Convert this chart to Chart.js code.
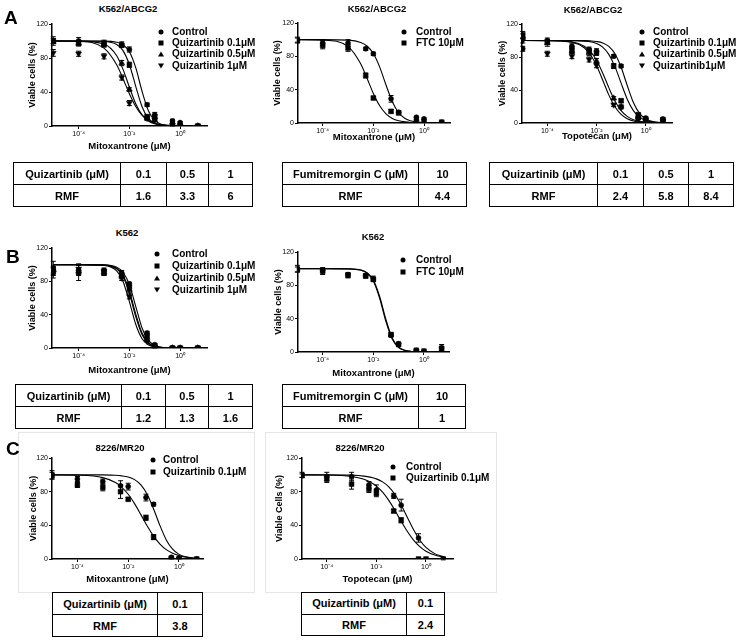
<!DOCTYPE html>
<html><head><meta charset="utf-8">
<script src="https://cdn.jsdelivr.net/npm/chart.js@4.4.1/dist/chart.umd.min.js"></script>
<style>
body{margin:0;background:#fff;width:739px;height:643px;position:relative;overflow:hidden;font-family:"Liberation Sans",Arial,sans-serif;color:#000;}
canvas{position:absolute;}
.ptitle{position:absolute;font-weight:bold;font-size:9.5px;transform:translate(-50%,-50%);white-space:nowrap;line-height:1;}
.letter{position:absolute;font-weight:bold;font-size:19px;line-height:1;transform:translateY(-50%);}
.legtxt{position:absolute;font-weight:bold;font-size:10px;white-space:nowrap;line-height:1;transform:translateY(-50%);}
.mk{position:absolute;transform:translate(-50%,-50%);}
.box{position:absolute;border:1px solid #e6e6e6;}
table{position:absolute;border-collapse:collapse;font-weight:bold;font-size:11px;table-layout:fixed;}
td{border:1.5px solid #000;text-align:center;padding:0;white-space:nowrap;overflow:hidden;}
</style></head><body>
<script>
// ---------------- DATA ----------------
const conc = [0.00001, 0.0001, 0.001, 0.005, 0.01, 0.05, 0.1, 0.5, 1, 5];
const curveConc = [0.00001, 0.0001, 0.001, 0.00316, 0.00562, 0.01, 0.0178, 0.0316, 0.0562, 0.1, 0.178, 0.316, 0.562, 1, 2.24, 5];
const xTickValues = [0.0001, 0.01, 1];
const xTickLabels = ['10⁻⁴', '10⁻²', '10⁰'];
const yTickValues = [0, 40, 80, 120];

// A1  K562/ABCG2  mitoxantrone
const a1Control    = [100, 100, 97, 96, 90, 25, 13, 6, 4, 0];
const a1ControlErr = [5, 4, 4, 3, 3, 2, 3, 2, 1, 0];
const a1ControlFit = [100, 100, 99.9, 98.6, 95.6, 87.3, 68.6, 40.9, 18.0, 6.5, 2.1, 0.7, 0.2, 0.1, 0, 0];
const a1Q01    = [100, 98, 97, 95, 72, 11, 11, 1, 0, 0];
const a1Q01Err = [3, 3, 3, 2, 3, 2, 2, 1, 0, 0];
const a1Q01Fit = [100, 100, 99.5, 95.9, 88.7, 72.4, 46.7, 22.7, 8.9, 3.2, 1.1, 0.4, 0.1, 0, 0, 0];
const a1Q05    = [99, 97, 96, 74, 43, 9, 7, 2, 1, 0];
const a1Q05Err = [2, 3, 3, 3, 2, 2, 1, 1, 0, 0];
const a1Q05Fit = [100, 99.9, 96.4, 82.6, 66.6, 45.7, 26.2, 13.0, 5.9, 2.6, 1.1, 0.5, 0.2, 0.1, 0, 0];
const a1Q1    = [86, 85, 82, 57, 27, 9, 7, 1, 0, 0];
const a1Q1Err = [4, 3, 3, 3, 3, 2, 1, 0, 0, 0];
const a1Q1Fit = [100, 99.5, 91.6, 72.0, 55.7, 38.0, 23.0, 12.7, 6.6, 3.3, 1.6, 0.8, 0.4, 0.2, 0.1, 0];

// A2  K562/ABCG2  mitoxantrone + FTC
const a2Control    = [100, 96, 96, 89, 83, 29, 13, 7, 5, 1];
const a2ControlErr = [3, 3, 4, 2, 2, 4, 2, 1, 1, 0];
const a2ControlFit = [100, 100, 99.4, 96.7, 92.4, 83.3, 67.1, 45.6, 25.5, 12.3, 5.4, 2.3, 1.0, 0.4, 0.1, 0];
const a2Ftc    = [99, 93, 90, 57, 30, 14, 12, 2, 1, 1];
const a2FtcErr = [3, 4, 4, 3, 2, 2, 1, 1, 0, 0];
const a2FtcFit = [100, 99.5, 91.7, 71.1, 53.7, 35.5, 20.6, 11.0, 5.5, 2.7, 1.3, 0.6, 0.3, 0.1, 0.1, 0];

// A3  K562/ABCG2  topotecan
const a3Control    = [90, 100, 93, 89, 87, 81, 69, 6, 6, 5];
const a3ControlErr = [3, 3, 3, 3, 3, 2, 2, 2, 1, 1];
const a3ControlFit = [100, 100, 100, 99.8, 99.5, 98.8, 97.1, 92.9, 84.0, 67.6, 45.4, 24.9, 11.6, 5.0, 1.4, 0.4];
const a3Q01    = [107, 98, 89, 87, 85, 69, 27, 10, 5, 4];
const a3Q01Err = [4, 3, 4, 3, 3, 3, 2, 2, 1, 1];
const a3Q01Fit = [100, 100, 99.9, 99.3, 98.4, 96.3, 92.0, 83.2, 68.3, 48.3, 28.9, 15.0, 7.1, 3.2, 1.0, 0.3];
const a3Q05    = [105, 97, 87, 85, 75, 30, 20, 7, 4, 3];
const a3Q05Err = [3, 4, 3, 3, 3, 2, 2, 1, 1, 1];
const a3Q05Fit = [100, 99.9, 98.3, 93.0, 86.7, 76.0, 60.6, 42.9, 26.7, 15.1, 8.0, 4.0, 2.0, 1.0, 0.4, 0.1];
const a3Q1    = [100, 84, 81, 77, 70, 22, 19, 5, 3, 2];
const a3Q1Err = [3, 3, 3, 3, 3, 2, 2, 1, 1, 1];
const a3Q1Fit = [100, 99.9, 97.9, 91.2, 83.0, 69.8, 52.2, 34.1, 19.7, 10.4, 5.2, 2.5, 1.2, 0.6, 0.2, 0.1];

// B1  K562  mitoxantrone
const b1Control    = [96, 93, 93, 90, 77, 18, 4, 0, 0, 0];
const b1ControlErr = [8, 6, 3, 3, 2, 2, 1, 0, 0, 0];
const b1ControlFit = [100, 100, 99.7, 96.9, 90.9, 76.0, 50.0, 24.0, 9.1, 3.1, 1.0, 0.3, 0.1, 0, 0, 0];
const b1Q01    = [92, 91, 90, 87, 73, 14, 3, 0, 0, 0];
const b1Q01Err = [5, 10, 3, 3, 3, 2, 1, 0, 0, 0];
const b1Q01Fit = [100, 100, 99.5, 95.6, 87.4, 68.6, 40.9, 18.0, 6.5, 2.1, 0.7, 0.2, 0.1, 0, 0, 0];
const b1Q05    = [94, 92, 91, 86, 70, 10, 2, 0, 0, 0];
const b1Q05Err = [4, 4, 3, 3, 3, 2, 1, 0, 0, 0];
const b1Q05Fit = [100, 100, 99.5, 95.0, 85.8, 65.6, 37.6, 16.0, 5.7, 1.9, 0.6, 0.2, 0.1, 0, 0, 0];
const b1Q1    = [90, 95, 92, 84, 62, 8, 1, 0, 0, 0];
const b1Q1Err = [6, 4, 3, 3, 3, 1, 1, 0, 0, 0];
const b1Q1Fit = [100, 100, 99.2, 92.6, 79.9, 55.7, 28.5, 11.2, 3.8, 1.2, 0.4, 0.1, 0, 0, 0, 0];

// B2  K562  mitoxantrone + FTC
const b2Control    = [100, 98, 93, 92, 88, 20, 10, 2, 1, 5];
const b2ControlErr = [4, 3, 2, 2, 3, 2, 2, 1, 0, 4];
const b2ControlFit = [100, 100, 99.8, 98.4, 95.2, 86.3, 66.6, 38.7, 16.6, 5.9, 2.0, 0.6, 0.2, 0.1, 0, 0];
const b2Ftc    = [99, 97, 92, 91, 87, 21, 9, 2, 1, 4];
const b2FtcErr = [3, 4, 3, 2, 2, 2, 2, 1, 0, 3];
const b2FtcFit = [100, 100, 99.8, 98.3, 94.8, 85.2, 64.5, 36.5, 15.4, 5.4, 1.8, 0.6, 0.2, 0.1, 0, 0];

// C1  8226/MR20  mitoxantrone
const c1Control    = [100, 95, 92, 87, 86, 73, 65, 2, 1, 0];
const c1ControlErr = [5, 3, 3, 6, 4, 4, 2, 1, 1, 0];
const c1ControlFit = [100, 100, 99.9, 99.5, 98.8, 97.4, 94.3, 88.1, 76.7, 59.5, 39.7, 22.7, 11.6, 5.5, 1.9, 0.6];
const c1Q01    = [99, 88, 85, 80, 71, 49, 26, 1, 0, 0];
const c1Q01Err = [4, 3, 4, 8, 2, 3, 3, 1, 0, 0];
const c1Q01Fit = [100, 99.6, 96.7, 90.9, 85.2, 76.9, 65.8, 52.7, 39.2, 27.2, 17.8, 11.1, 6.8, 4.0, 1.9, 0.9];

// C2  8226/MR20  topotecan
const c2Control    = [100, 98, 98, 88, 82, 75, 64, 25, null, 0];
const c2ControlErr = [3, 5, 5, 4, 6, 3, 7, 5, 0, 1];
const c2ControlFit = [100, 100, 99.6, 98.5, 97.3, 95.2, 91.6, 85.7, 76.6, 64.1, 49.4, 34.8, 22.6, 13.7, 6.4, 2.8];
const c2Q01    = [99, 95, 89, 83, 78, 57, 46, 0, 0, 0];
const c2Q01Err = [2, 4, 6, 4, 4, 2, 3, 0, 0, 0];
const c2Q01Fit = [100, 99.8, 98.1, 94.8, 91.5, 86.6, 79.4, 69.6, 57.7, 44.8, 32.6, 22.4, 14.7, 9.3, 4.7, 2.3];

// Tables
const tblA1Head = ['Quizartinib (μM)', '0.1', '0.5', '1'];
const tblA1Rmf  = ['RMF', '1.6', '3.3', '6'];
const tblA2Head = ['Fumitremorgin C (μM)', '10'];
const tblA2Rmf  = ['RMF', '4.4'];
const tblA3Head = ['Quizartinib (μM)', '0.1', '0.5', '1'];
const tblA3Rmf  = ['RMF', '2.4', '5.8', '8.4'];
const tblB1Head = ['Quizartinib (μM)', '0.1', '0.5', '1'];
const tblB1Rmf  = ['RMF', '1.2', '1.3', '1.6'];
const tblB2Head = ['Fumitremorgin C (μM)', '10'];
const tblB2Rmf  = ['RMF', '1'];
const tblC1Head = ['Quizartinib (μM)', '0.1'];
const tblC1Rmf  = ['RMF', '3.8'];
const tblC2Head = ['Quizartinib (μM)', '0.1'];
const tblC2Rmf  = ['RMF', '2.4'];

// ---------------- LAYOUT / STYLE ----------------
const FONT = '"Liberation Sans", Arial, sans-serif';
const MARK = {
  circle: {pointStyle: 'circle', r: 2.5, rot: 0},
  square: {pointStyle: 'rect', r: 3.4, rot: 0},
  up:     {pointStyle: 'triangle', r: 3.4, rot: 0},
  down:   {pointStyle: 'triangle', r: 3.4, rot: 180}
};

const panels = [
  {title: 'K562/ABCG2', tx: 128, ty: 9, xTitle: 'Mitoxantrone (μM)', yTitle: 'Viable cells (%)',
   L: 52, R: 207, T: 24, B: 126, xmin: -5.05, xmax: 1.06, yg: 19, xg: 20,
   leg: {mx: 161, tx: 172, ys: [32, 43.3, 54.3, 65.7]},
   series: [
     {name: 'Control', mk: 'circle', v: a1Control, e: a1ControlErr, f: a1ControlFit},
     {name: 'Quizartinib 0.1μM', mk: 'square', v: a1Q01, e: a1Q01Err, f: a1Q01Fit},
     {name: 'Quizartinib 0.5μM', mk: 'up', v: a1Q05, e: a1Q05Err, f: a1Q05Fit},
     {name: 'Quizartinib 1μM', mk: 'down', v: a1Q1, e: a1Q1Err, f: a1Q1Fit}]},
  {title: 'K562/ABCG2', tx: 377, ty: 9, xTitle: 'Mitoxantrone (μM)', yTitle: 'Viable cells (%)',
   L: 298, R: 450, T: 23, B: 123, xmin: -4.975, xmax: 1.026, yg: 20.5, xg: 14,
   leg: {mx: 404, tx: 416, ys: [31.7, 43.3]},
   series: [
     {name: 'Control', mk: 'circle', v: a2Control, e: a2ControlErr, f: a2ControlFit},
     {name: 'FTC 10μM', mk: 'square', v: a2Ftc, e: a2FtcErr, f: a2FtcFit}]},
  {title: 'K562/ABCG2', tx: 593, ty: 10, xTitle: 'Topotecan (μM)', yTitle: 'Viable cells (%)',
   L: 522, R: 672, T: 24, B: 123, xmin: -5.03, xmax: 1.07, yg: 19, xg: 13.5,
   leg: {mx: 642, tx: 653, ys: [31.7, 43.3, 54.3, 65.7]},
   series: [
     {name: 'Control', mk: 'circle', v: a3Control, e: a3ControlErr, f: a3ControlFit},
     {name: 'Quizartinib 0.1μM', mk: 'square', v: a3Q01, e: a3Q01Err, f: a3Q01Fit},
     {name: 'Quizartinib 0.5μM', mk: 'up', v: a3Q05, e: a3Q05Err, f: a3Q05Fit},
     {name: 'Quizartinib1μM', mk: 'down', v: a3Q1, e: a3Q1Err, f: a3Q1Fit}]},
  {title: 'K562', tx: 127, ty: 233, xTitle: 'Mitoxantrone (μM)', yTitle: 'Viable cells (%)',
   L: 52, R: 207, T: 248, B: 348, xmin: -5.05, xmax: 1.06, yg: 19.3, xg: 22,
   leg: {mx: 157, tx: 172, ys: [254.3, 265.7, 277.7, 290]},
   series: [
     {name: 'Control', mk: 'circle', v: b1Control, e: b1ControlErr, f: b1ControlFit},
     {name: 'Quizartinib 0.1μM', mk: 'square', v: b1Q01, e: b1Q01Err, f: b1Q01Fit},
     {name: 'Quizartinib 0.5μM', mk: 'up', v: b1Q05, e: b1Q05Err, f: b1Q05Fit},
     {name: 'Quizartinib 1μM', mk: 'down', v: b1Q1, e: b1Q1Err, f: b1Q1Fit}]},
  {title: 'K562', tx: 373, ty: 237, xTitle: 'Mitoxantrone (μM)', yTitle: 'Viable cells (%)',
   L: 298, R: 449, T: 252, B: 352, xmin: -4.975, xmax: 0.99, yg: 19.7, xg: 21,
   leg: {mx: 403, tx: 416, ys: [260, 272.3]},
   series: [
     {name: 'Control', mk: 'circle', v: b2Control, e: b2ControlErr, f: b2ControlFit},
     {name: 'FTC 10μM', mk: 'square', v: b2Ftc, e: b2FtcErr, f: b2FtcFit}]},
  {title: '8226/MR20', tx: 120, ty: 448, xTitle: 'Mitoxantrone (μM)', yTitle: 'Viable cells (%)',
   L: 52, R: 203, T: 458, B: 559, xmin: -5.0, xmax: 0.945, yg: 18.7, xg: 20,
   leg: {mx: 153, tx: 163, ys: [460, 472.3]},
   series: [
     {name: 'Control', mk: 'circle', v: c1Control, e: c1ControlErr, f: c1ControlFit},
     {name: 'Quizartinib 0.1μM', mk: 'square', v: c1Q01, e: c1Q01Err, f: c1Q01Fit}]},
  {title: '8226/MR20', tx: 360, ty: 448, xTitle: 'Topotecan (μM)', yTitle: 'Viable Cells (%)',
   L: 302, R: 453, T: 458, B: 559, xmin: -5.0, xmax: 1.09, yg: 22.4, xg: 20,
   leg: {mx: 393, tx: 406, ys: [466.7, 478.3]},
   series: [
     {name: 'Control', mk: 'circle', v: c2Control, e: c2ControlErr, f: c2ControlFit},
     {name: 'Quizartinib 0.1μM', mk: 'square', v: c2Q01, e: c2Q01Err, f: c2Q01Fit}]}
];

const tables = [
  {head: tblA1Head, rmf: tblA1Rmf, left: 13, top: 162, cols: [107, 46, 42, 44], rh: 22},
  {head: tblA2Head, rmf: tblA2Rmf, left: 282, top: 162, cols: [136, 48], rh: 22},
  {head: tblA3Head, rmf: tblA3Rmf, left: 489, top: 162, cols: [108, 46, 45, 45], rh: 22},
  {head: tblB1Head, rmf: tblB1Rmf, left: 15, top: 384, cols: [106, 44, 43, 44], rh: 22},
  {head: tblB2Head, rmf: tblB2Rmf, left: 282, top: 384, cols: [136, 47], rh: 22},
  {head: tblC1Head, rmf: tblC1Rmf, left: 52, top: 592, cols: [105, 45], rh: 22},
  {head: tblC2Head, rmf: tblC2Rmf, left: 301, top: 592, cols: [105, 38], rh: 21.5}
];

const letters = [{t: 'A', x: 4, y: 17}, {t: 'B', x: 6, y: 256}, {t: 'C', x: 6, y: 448}];
const boxes = [{x: 18, y: 432, w: 235, h: 159}, {x: 265, y: 432, w: 230, h: 159}];

// ---------------- RENDER ----------------
const errorBarPlugin = {
  id: 'errorBars',
  afterDatasetsDraw(chart) {
    const ctx = chart.ctx, ys = chart.scales.y;
    ctx.save();
    ctx.strokeStyle = '#000';
    ctx.lineWidth = 1;
    chart.data.datasets.forEach((ds, di) => {
      if (!ds.errors) return;
      const meta = chart.getDatasetMeta(di);
      meta.data.forEach((pt, i) => {
        const d = ds.data[i], e = ds.errors[i];
        if (!d || d.y === null || !e || pt.skip) return;
        const x = pt.x, y1 = ys.getPixelForValue(d.y + e), y2 = ys.getPixelForValue(d.y - e);
        ctx.beginPath();
        ctx.moveTo(x, y1); ctx.lineTo(x, y2);
        ctx.moveTo(x - 2.5, y1); ctx.lineTo(x + 2.5, y1);
        ctx.moveTo(x - 2.5, y2); ctx.lineTo(x + 2.5, y2);
        ctx.stroke();
      });
    });
    ctx.restore();
  }
};

function addDiv(cls, text, styles) {
  const d = document.createElement('div');
  d.className = cls;
  if (text !== null) d.textContent = text;
  Object.assign(d.style, styles);
  document.body.appendChild(d);
  return d;
}

function markerDiv(kind, x, y) {
  const s = {left: x + 'px', top: y + 'px'};
  if (kind === 'circle') Object.assign(s, {width: '5px', height: '5px', borderRadius: '50%', background: '#000'});
  else if (kind === 'square') Object.assign(s, {width: '5px', height: '5px', background: '#000'});
  else if (kind === 'up') Object.assign(s, {width: 0, height: 0, borderLeft: '3px solid transparent', borderRight: '3px solid transparent', borderBottom: '5px solid #000'});
  else Object.assign(s, {width: 0, height: 0, borderLeft: '3px solid transparent', borderRight: '3px solid transparent', borderTop: '5px solid #000'});
  addDiv('mk', null, s);
}

boxes.forEach(b => addDiv('box', null, {left: b.x + 'px', top: b.y + 'px', width: b.w + 'px', height: b.h + 'px'}));

const YW = 40, TP = 8, RP = 12, XH = 32;
panels.forEach(p => {
  const cv = document.createElement('canvas');
  const w = (p.R - p.L) + YW + RP, h = (p.B - p.T) + TP + XH;
  cv.width = w; cv.height = h;
  cv.style.width = w + 'px'; cv.style.height = h + 'px';
  cv.style.left = (p.L - YW) + 'px'; cv.style.top = (p.T - TP) + 'px';
  document.body.appendChild(cv);

  const datasets = [];
  p.series.forEach(s => {
    const m = MARK[s.mk];
    datasets.push({
      label: s.name,
      data: conc.map((c, i) => ({x: c, y: s.v[i]})),
      errors: s.e,
      showLine: false,
      pointStyle: m.pointStyle, pointRadius: m.r, pointRotation: m.rot,
      pointBackgroundColor: '#000', pointBorderColor: '#000', pointBorderWidth: 0.5
    });
  });
  p.series.forEach(s => {
    datasets.push({
      label: s.name + ' fit',
      data: curveConc.map((c, i) => ({x: c, y: s.f[i]})),
      showLine: true, pointRadius: 0, borderColor: '#000', borderWidth: 1.1,
      cubicInterpolationMode: 'monotone', fill: false
    });
  });

  const gridOpt = {display: true, drawOnChartArea: false, drawTicks: true, tickLength: 3, color: '#000', lineWidth: 1};
  new Chart(cv.getContext('2d'), {
    type: 'scatter',
    data: {datasets},
    options: {
      responsive: false, animation: false, devicePixelRatio: 1,
      layout: {padding: {left: 0, top: TP, right: RP, bottom: 0}},
      plugins: {legend: {display: false}, tooltip: {enabled: false}, title: {display: false}},
      scales: {
        x: {
          type: 'logarithmic', min: Math.pow(10, p.xmin), max: Math.pow(10, p.xmax),
          afterBuildTicks: ax => { ax.ticks = xTickValues.map(v => ({value: v})); },
          afterFit: ax => { ax.height = XH; },
          ticks: {callback: (v, i) => xTickLabels[i], font: {size: 7, family: FONT}, color: '#000', padding: 1, maxRotation: 0, autoSkip: false},
          grid: gridOpt,
          border: {display: true, color: '#000', width: 1.5},
          title: {display: true, text: p.xTitle, color: '#000', font: {size: 9.5, weight: 'bold', family: FONT},
                  padding: {top: 0, bottom: XH - p.xg - 5.7}}
        },
        y: {
          type: 'linear', min: 0, max: 120,
          afterBuildTicks: ax => { ax.ticks = yTickValues.map(v => ({value: v})); },
          afterFit: ax => { ax.width = YW; },
          ticks: {font: {size: 7, family: FONT}, color: '#000', padding: 1},
          grid: gridOpt,
          border: {display: true, color: '#000', width: 1.5},
          title: {display: true, text: p.yTitle, color: '#000', font: {size: 9, weight: 'bold', family: FONT},
                  padding: {top: YW - p.yg - 5.4, bottom: 0}}
        }
      }
    },
    plugins: [errorBarPlugin]
  });

  addDiv('ptitle', p.title, {left: p.tx + 'px', top: p.ty + 'px'});
  p.series.forEach((s, i) => {
    markerDiv(s.mk, p.leg.mx, p.leg.ys[i]);
    addDiv('legtxt', s.name, {left: p.leg.tx + 'px', top: p.leg.ys[i] + 'px'});
  });
});

letters.forEach(l => addDiv('letter', l.t, {left: l.x + 'px', top: l.y + 'px'}));

tables.forEach(t => {
  const tb = document.createElement('table');
  const total = t.cols.reduce((a, b) => a + b, 0);
  Object.assign(tb.style, {left: t.left + 'px', top: t.top + 'px', width: total + 'px'});
  const cg = document.createElement('colgroup');
  t.cols.forEach(c => { const col = document.createElement('col'); col.style.width = c + 'px'; cg.appendChild(col); });
  tb.appendChild(cg);
  [t.head, t.rmf].forEach(row => {
    const tr = document.createElement('tr');
    tr.style.height = t.rh + 'px';
    row.forEach(txt => { const td = document.createElement('td'); td.textContent = txt; tr.appendChild(td); });
    tb.appendChild(tr);
  });
  document.body.appendChild(tb);
});
</script>
</body></html>
